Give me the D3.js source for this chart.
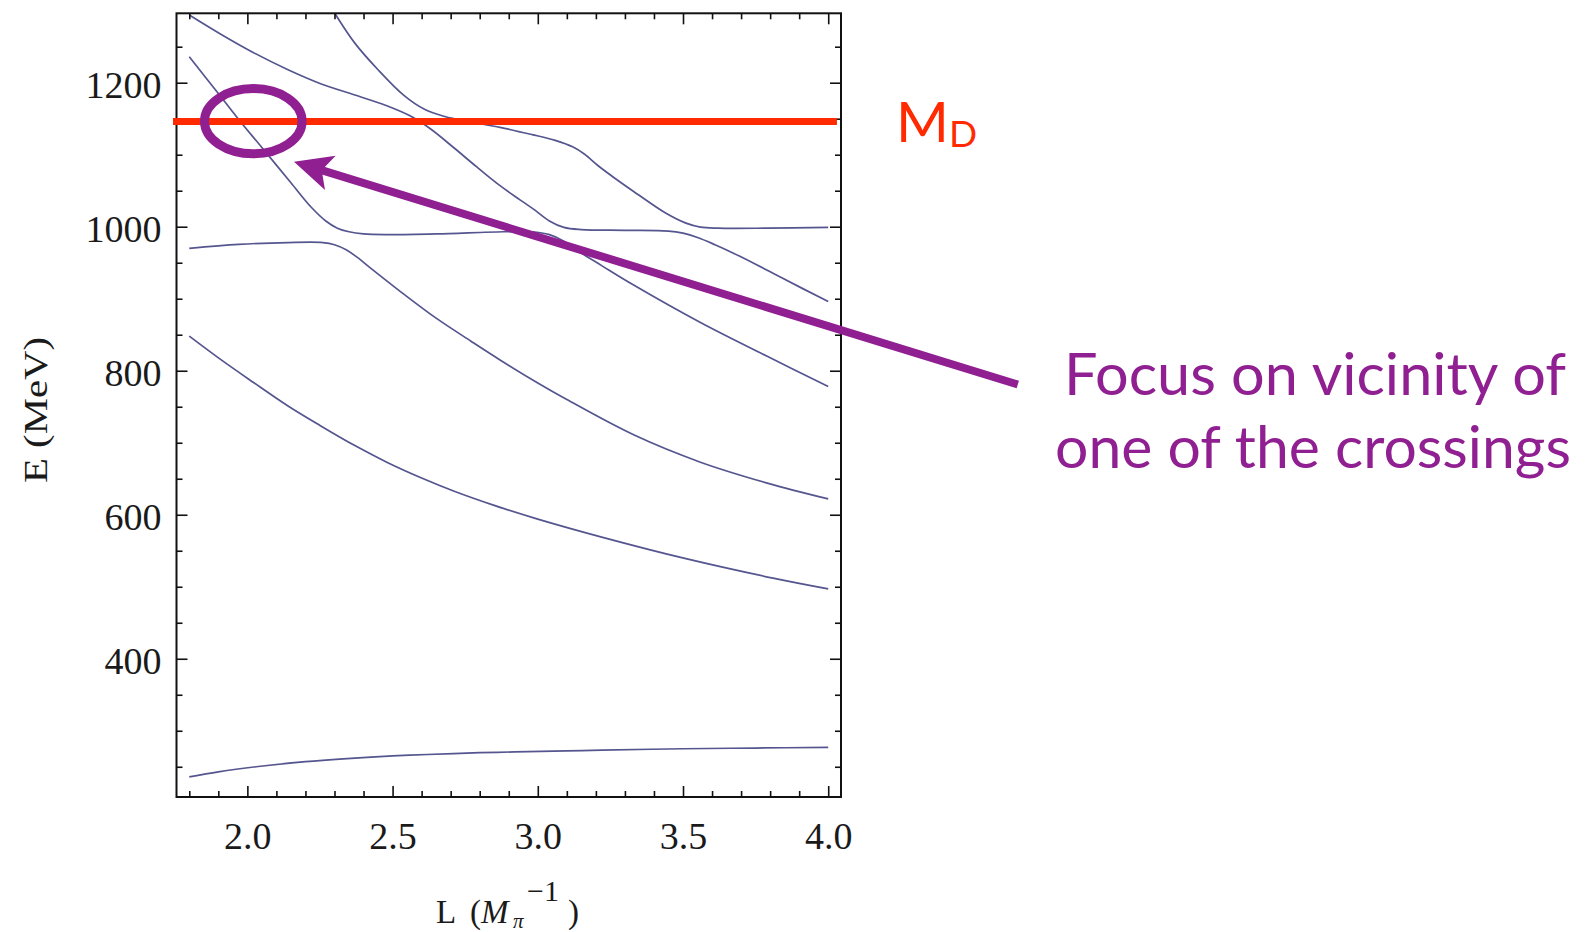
<!DOCTYPE html>
<html>
<head>
<meta charset="utf-8">
<script src="https://cdn.jsdelivr.net/npm/d3@7"></script>
<style>
  html, body { margin: 0; padding: 0; background: #ffffff; }
  svg { display: block; }
</style>
</head>
<body>
<svg id="chart" width="1591" height="932"></svg>
<script>
// ---------------- DATA ----------------
// energy levels E (MeV) vs box size L (1/M_pi)
const level1 = [[1.80,236],[1.90,243],[2.03,250],[2.20,257],[2.33,261],[2.50,265],[2.62,267],[2.80,269.5],[2.92,270.6],[3.10,272],[3.22,273],[3.50,275],[3.75,276],[4.00,277]];
const level2 = [[1.80,848],[1.91,815],[2.02,784],[2.14,751],[2.25,724],[2.37,696],[2.48,673],[2.60,651],[2.71,633],[2.85,613],[3.00,594],[3.22,569],[3.51,539],[3.81,512],[4.00,497]];
const level3 = [[1.80,970],[1.97,975.5],[2.14,978],[2.26,978],[2.30,975],[2.34,968],[2.38,957],[2.42,944],[2.54,906],[2.65,873],[2.77,841],[2.87,815],[3.00,783],[3.10,760],[3.33,711],[3.56,673],[3.79,644],[4.00,622]];
const level4 = [[1.80,1236],[1.90,1185],[1.97,1149],[2.05,1110],[2.15,1061],[2.22,1027],[2.27,1008],[2.31,998],[2.35,993],[2.40,990],[2.48,989],[2.65,990],[2.88,993],[2.98,993],[3.04,989],[3.09,980],[3.14,966],[3.22,946],[3.33,919],[3.56,867],[3.79,820],[4.00,778]];
const level5 = [[1.80,1294],[1.91,1267],[2.02,1242],[2.14,1218],[2.25,1199],[2.37,1183],[2.48,1168],[2.56,1154],[2.63,1136],[2.71,1110],[2.79,1083],[2.87,1057],[2.94,1037],[2.99,1023],[3.04,1008],[3.09,999],[3.15,996],[3.30,995],[3.45,994],[3.50,991],[3.55,985],[3.61,975],[3.67,964],[3.75,948],[3.84,929],[4.00,896]];
const level6 = [[2.28,1310],[2.30,1297],[2.37,1255],[2.45,1218],[2.54,1182],[2.61,1163],[2.68,1153],[2.76,1146],[2.87,1138],[2.98,1128],[3.06,1120],[3.12,1111],[3.16,1101],[3.21,1084],[3.27,1066],[3.33,1049],[3.44,1019],[3.51,1005],[3.56,999.5],[3.62,998],[3.79,998],[4.00,999]];
const levels = [level1, level2, level3, level4, level5, level6];

const MD = 1146;                         // M_D threshold line
const xDomain = [1.756, 4.044];
const yDomain = [208, 1296.4];
const xMajorTicks = [2.0, 2.5, 3.0, 3.5, 4.0];
const xTickLabels = ["2.0", "2.5", "3.0", "3.5", "4.0"];
const xMinorTicks = [1.8,1.9,2.1,2.2,2.3,2.4,2.6,2.7,2.8,2.9,3.1,3.2,3.3,3.4,3.6,3.7,3.8,3.9];
const yMajorTicks = [400, 600, 800, 1000, 1200];
const yTickLabels = ["400", "600", "800", "1000", "1200"];
const yMinorTicks = [250,300,350,450,500,550,650,700,750,850,900,950,1050,1100,1150,1250];

// ---------------- LAYOUT ----------------
const frame = { left: 176.5, right: 841, top: 13.3, bottom: 797 };
const svg = d3.select("#chart");

const x = d3.scaleLinear().domain(xDomain).range([frame.left, frame.right]);
const y = d3.scaleLinear().domain(yDomain).range([frame.bottom, frame.top]);

const curveColor = "#55558f";
const red = "#ff2a00";
const purple = "#901f92";
const serif = "'Liberation Serif', 'Times New Roman', serif";
const sans = "Lato, 'Open Sans', sans-serif";

// clip
svg.append("defs").append("clipPath").attr("id", "plotclip")
  .append("rect")
  .attr("x", frame.left).attr("y", frame.top)
  .attr("width", frame.right - frame.left).attr("height", frame.bottom - frame.top);

// curves
const line = d3.line().x(d => x(d[0])).y(d => y(d[1])).curve(d3.curveCatmullRom.alpha(0.5));
svg.append("g").attr("clip-path", "url(#plotclip)")
  .selectAll("path").data(levels).join("path")
  .attr("d", line)
  .attr("fill", "none")
  .attr("stroke", curveColor)
  .attr("stroke-width", 1.7)
  .attr("stroke-linejoin", "round");

// axes (ticks inward)
function styleAxis(g) {
  g.select(".domain").remove();
  g.selectAll(".tick line").attr("stroke", "#111").attr("stroke-width", 1.6);
  g.selectAll("text").attr("font-family", serif).attr("font-size", 38).attr("fill", "#1a1a1a");
}
// bottom
svg.append("g").attr("transform", `translate(0,${frame.bottom})`)
  .call(d3.axisBottom(x).tickValues(xMinorTicks).tickSize(-6).tickFormat(""))
  .call(styleAxis);
svg.append("g").attr("transform", `translate(0,${frame.bottom})`)
  .call(d3.axisBottom(x).tickValues(xMajorTicks).tickSize(-11).tickPadding(25)
        .tickFormat((d, i) => xTickLabels[i]))
  .call(styleAxis);
// top
svg.append("g").attr("transform", `translate(0,${frame.top})`)
  .call(d3.axisTop(x).tickValues(xMinorTicks).tickSize(-6).tickFormat(""))
  .call(styleAxis);
svg.append("g").attr("transform", `translate(0,${frame.top})`)
  .call(d3.axisTop(x).tickValues(xMajorTicks).tickSize(-11).tickFormat(""))
  .call(styleAxis);
// left
svg.append("g").attr("transform", `translate(${frame.left},0)`)
  .call(d3.axisLeft(y).tickValues(yMinorTicks).tickSize(-6).tickFormat(""))
  .call(styleAxis);
const leftMajor = svg.append("g").attr("transform", `translate(${frame.left},0)`)
  .call(d3.axisLeft(y).tickValues(yMajorTicks).tickSize(-11).tickPadding(15)
        .tickFormat((d, i) => yTickLabels[i]))
  .call(styleAxis);
leftMajor.selectAll("text").attr("dy", "0.4em");
// right
svg.append("g").attr("transform", `translate(${frame.right},0)`)
  .call(d3.axisRight(y).tickValues(yMinorTicks).tickSize(-6).tickFormat(""))
  .call(styleAxis);
svg.append("g").attr("transform", `translate(${frame.right},0)`)
  .call(d3.axisRight(y).tickValues(yMajorTicks).tickSize(-11).tickFormat(""))
  .call(styleAxis);

// frame
svg.append("rect")
  .attr("x", frame.left).attr("y", frame.top)
  .attr("width", frame.right - frame.left).attr("height", frame.bottom - frame.top)
  .attr("fill", "none").attr("stroke", "#111").attr("stroke-width", 2);

// axis titles
svg.append("text")
  .attr("transform", `translate(47,410) rotate(-90) scale(1.2,1)`)
  .attr("text-anchor", "middle")
  .attr("font-family", serif).attr("font-size", 34).attr("fill", "#1a1a1a")
  .text("E (MeV)");

const xt = svg.append("text")
  .attr("font-family", serif).attr("font-size", 33).attr("fill", "#1a1a1a")
  .attr("y", 923);
xt.append("tspan").attr("x", 436).text("L");
xt.append("tspan").attr("x", 470).text("(");
xt.append("tspan").attr("x", 481).attr("font-style", "italic").text("M");
xt.append("tspan").attr("x", 513).attr("dy", 5).attr("font-style", "italic").attr("font-size", 21).text("π");
xt.append("tspan").attr("x", 527).attr("dy", -27).attr("font-size", 30).text("−1");
xt.append("tspan").attr("x", 568).attr("dy", 22).text(")");

// M_D threshold line
const yMD = y(MD);
svg.append("line")
  .attr("x1", frame.left - 3.5).attr("x2", x(4.03))
  .attr("y1", yMD).attr("y2", yMD)
  .attr("stroke", red).attr("stroke-width", 7);

const mText = svg.append("text").attr("font-family", sans).attr("fill", red)
  .attr("x", 896).attr("y", 141.7).attr("font-size", 57).text("M");
const mEnd = 896 + mText.node().getComputedTextLength();
svg.append("text").attr("font-family", sans).attr("fill", red)
  .attr("x", Math.max(mEnd, 948)).attr("y", 146.7).attr("font-size", 37).text("D");

// ellipse marking the crossing
svg.append("ellipse")
  .attr("cx", 253.3).attr("cy", 121.2).attr("rx", 48.8).attr("ry", 32.6)
  .attr("fill", "none").attr("stroke", purple).attr("stroke-width", 9);

// arrow
const tail = [1017.8, 384.5], tip = [294, 161.7];
const dx = tip[0] - tail[0], dy = tip[1] - tail[1];
const len = Math.hypot(dx, dy);
const ux = dx / len, uy = dy / len, nx = -uy, ny = ux;
const headLen = 38, headHalf = 18, notch = 9;
const base = [tip[0] - headLen * ux, tip[1] - headLen * uy];
const notchPt = [tip[0] - (headLen - notch) * ux, tip[1] - (headLen - notch) * uy];
svg.append("line")
  .attr("x1", tail[0]).attr("y1", tail[1])
  .attr("x2", notchPt[0] + 2 * ux).attr("y2", notchPt[1] + 2 * uy)
  .attr("stroke", purple).attr("stroke-width", 8);
svg.append("path")
  .attr("d", `M${tip[0]},${tip[1]} L${base[0] + headHalf * nx},${base[1] + headHalf * ny} L${notchPt[0]},${notchPt[1]} L${base[0] - headHalf * nx},${base[1] - headHalf * ny} Z`)
  .attr("fill", purple);

// annotation text
svg.append("text")
  .attr("x", 1064).attr("y", 395)
  .attr("font-family", sans).attr("font-size", 59).attr("fill", purple)
  .attr("textLength", 502).attr("lengthAdjust", "spacingAndGlyphs")
  .text("Focus on vicinity of");
svg.append("text")
  .attr("x", 1055).attr("y", 468.3)
  .attr("font-family", sans).attr("font-size", 59).attr("fill", purple)
  .attr("textLength", 516).attr("lengthAdjust", "spacingAndGlyphs")
  .text("one of the crossings");
</script>
</body>
</html>
